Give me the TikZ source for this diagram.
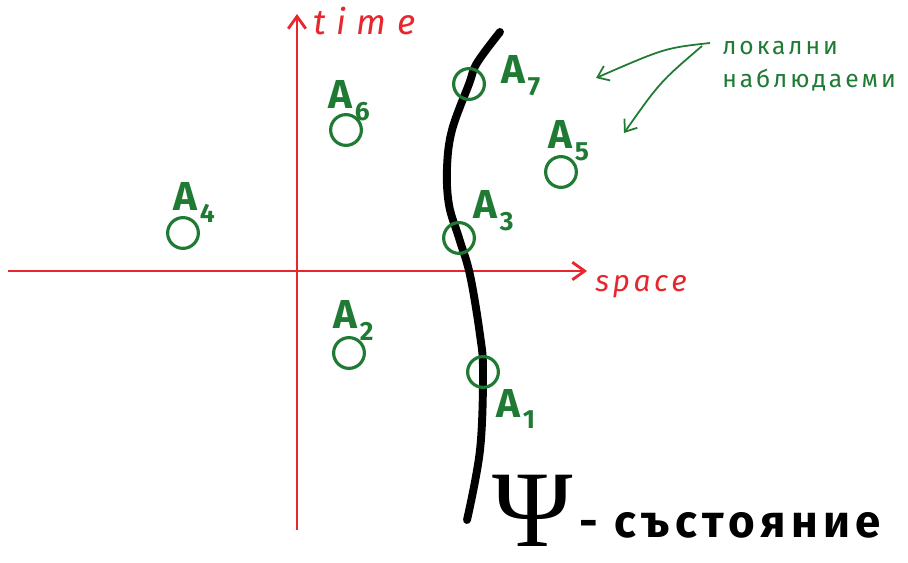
\documentclass[tikz,border=0pt]{standalone}
\usepackage{fontspec}
\setmainfont{Fira Sans}
\newfontfamily\handfont[LetterSpace=12]{Fira Sans}
\newfontfamily\psifont{Liberation Serif}
\usetikzlibrary{arrows.meta}
\definecolor{axisred}{RGB}{232,38,45}
\definecolor{obsgreen}{RGB}{31,122,52}
\newcommand{\alab}[1]{A\kern1.5pt\raisebox{-0.28em}{\fontsize{15}{15}\selectfont #1}}
\tikzset{
  axis/.style={axisred, line width=1.6pt, -{Straight Barb[length=7pt,width=10pt]}},
  axislabel/.style={text=axisred, anchor=base west, inner sep=0pt, font=\handfont\itshape\fontsize{17}{17}\selectfont},
  obsring/.style={circle, draw=obsgreen, line width=1.8pt, minimum size=17.5pt, inner sep=0pt},
  obslabel/.style={text=obsgreen, anchor=base west, inner sep=0pt, font=\bfseries\fontsize{23}{23}\selectfont},
  obstext/.style={text=obsgreen, anchor=base west, inner sep=0pt, font=\handfont\fontsize{14}{14}\selectfont},
  pointer/.style={obsgreen, line width=1pt, -{Straight Barb[length=6pt,width=9pt]}},
  worldline/.style={line width=4.5pt, line cap=round},
}
\begin{document}
\begin{tikzpicture}[x=0.02cm, y=-0.02cm]
    \useasboundingbox (0,0) rectangle (908,563);

    % оси
    \coordinate (xs) at (8,271);
    \coordinate (xe) at (587,271);
    \coordinate (ts) at (297,530);
    \coordinate (te) at (297,14);
    \draw[axis] (xs) -- (xe);
    \draw[axis] (ts) -- (te);
    \node[axislabel] (space) at (595,292) {space};
    \node[axislabel, font=\handfont\addfontfeature{LetterSpace=30}\itshape\fontsize{20}{20}\selectfont] (time) at (313,35) {time};

    % световата линия на състоянието
    \draw[worldline] plot[smooth, tension=0.6] coordinates {
        (500,32) (477,63) (469,84) (452,130) (447,168) (449,205)
        (459,238) (470,275) (480,335) (483,372) (480,450) (467,520)};

    % наблюдаеми
    \node[obsring] (a1) at (483,372) {};
    \node[obsring] (a2) at (349,353) {};
    \node[obsring] (a3) at (459,238) {};
    \node[obsring] (a4) at (183,233) {};
    \node[obsring] (a5) at (561,172) {};
    \node[obsring] (a6) at (346,130) {};
    \node[obsring] (a7) at (469,84) {};

    \node[obslabel] (l1) at (496,417) {\alab{1}};
    \node[obslabel] (l2) at (333,329) {\alab{2}};
    \node[obslabel] (l3) at (473,219) {\alab{3}};
    \node[obslabel] (l4) at (173,211) {\alab{4}};
    \node[obslabel] (l5) at (548,149) {\alab{5}};
    \node[obslabel] (l6) at (328,109) {\alab{6}};
    \node[obslabel] (l7) at (501,84) {\alab{7}};

    % бележка
    \node[obstext] (lokal) at (722,55) {локални};
    \node[obstext] (nabl) at (722,88) {наблюдаеми};
    \coordinate (tail1) at (710,43);
    \coordinate (tail2) at (702,46);
    \coordinate (tip1) at (596,78);
    \coordinate (tip2) at (624,133);
    \draw[pointer] (tail1) .. controls (665,48) .. (tip1);
    \draw[pointer] (tail2) .. controls (660,82) .. (tip2);

    % състояние
    \node[inner sep=0pt, font=\psifont\fontsize{62}{62}\selectfont] (psi) at (533,511) {Ψ};
    \node[anchor=base west, inner sep=0pt, font=\handfont\bfseries\fontsize{26}{26}\selectfont] (state) at (579,537) {- състояние};
\end{tikzpicture}
\end{document}
